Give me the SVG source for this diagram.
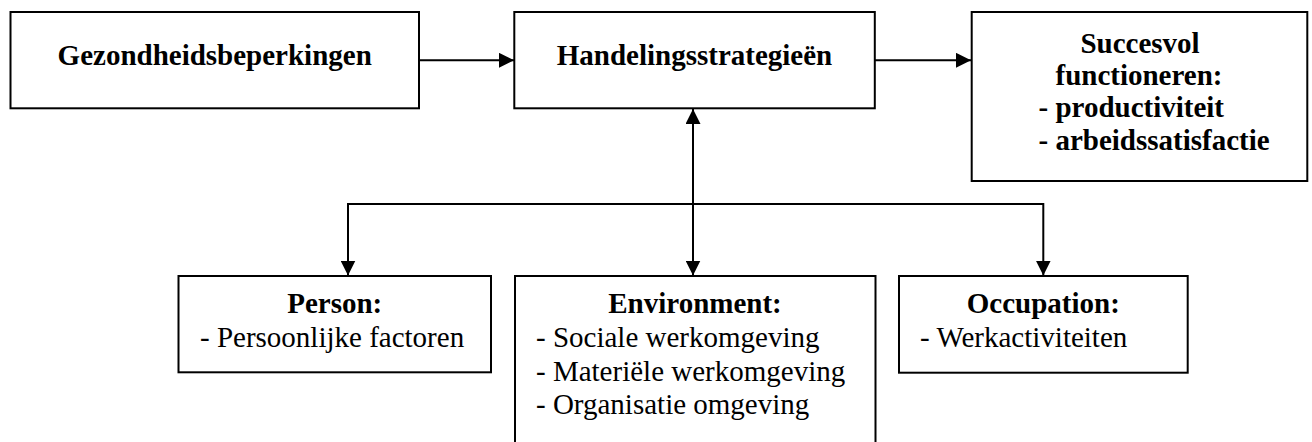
<svg xmlns="http://www.w3.org/2000/svg" width="1312" height="442" viewBox="0 0 1312 442">
<style>
.box{fill:#fff;stroke:#000;stroke-width:2}
.t{font-family:"Liberation Serif","Times New Roman",serif;font-size:29px;fill:#000}
.b{font-weight:bold}
.c{text-anchor:middle}
.ln{stroke:#000;stroke-width:2;fill:none}
</style>
<defs>
<marker id="ah" viewBox="0 0 15 15" refX="15" refY="7.5" markerWidth="15" markerHeight="15" markerUnits="userSpaceOnUse" orient="auto-start-reverse">
<path d="M0,0 L15,7.5 L0,15 Z" fill="#000"/>
</marker>
</defs>
<rect width="1312" height="442" fill="#fff"/>
<g id="connectors">
<line class="ln" x1="419" y1="60.3" x2="514" y2="60.3" marker-end="url(#ah)"/>
<line class="ln" x1="875" y1="60.3" x2="971" y2="60.3" marker-end="url(#ah)"/>
<line class="ln" x1="693" y1="109" x2="693" y2="275.5" marker-start="url(#ah)" marker-end="url(#ah)"/>
<polyline class="ln" points="348,275.5 348,204 1043.3,204 1043.3,275.5" marker-start="url(#ah)" marker-end="url(#ah)"/>
</g>
<g id="node-gezondheidsbeperkingen">
<rect class="box" x="10.5" y="12" width="408.5" height="96.3"/>
<text class="t b c" x="214.7" y="65">Gezondheidsbeperkingen</text>
</g>
<g id="node-handelingsstrategieen">
<rect class="box" x="514.3" y="12" width="360.5" height="96.3"/>
<text class="t b c" x="694.5" y="65">Handelingsstrategieën</text>
</g>
<g id="node-succesvol">
<rect class="box" x="971.7" y="12" width="335.6" height="169"/>
<text class="t b c" x="1140" y="52.5">Succesvol</text>
<text class="t b c" x="1139" y="84.5">functioneren:</text>
<text class="t b" x="1038.5" y="117">- productiviteit</text>
<text class="t b" x="1038.5" y="150">- arbeidssatisfactie</text>
</g>
<g id="node-person">
<rect class="box" x="178.5" y="276" width="312.5" height="96.3"/>
<text class="t b c" x="334.7" y="313.3">Person:</text>
<text class="t" x="200" y="346.7">- Persoonlijke factoren</text>
</g>
<g id="node-environment">
<rect class="box" x="515" y="276" width="360.5" height="170"/>
<text class="t b c" x="695" y="313.3">Environment:</text>
<text class="t" x="536" y="346.7">- Sociale werkomgeving</text>
<text class="t" x="536" y="380.5">- Materiële werkomgeving</text>
<text class="t" x="536" y="413.5">- Organisatie omgeving</text>
</g>
<g id="node-occupation">
<rect class="box" x="899" y="276" width="288.7" height="96.7"/>
<text class="t b c" x="1043.3" y="313.3">Occupation:</text>
<text class="t" x="920" y="347.3">- Werkactiviteiten</text>
</g>
</svg>
